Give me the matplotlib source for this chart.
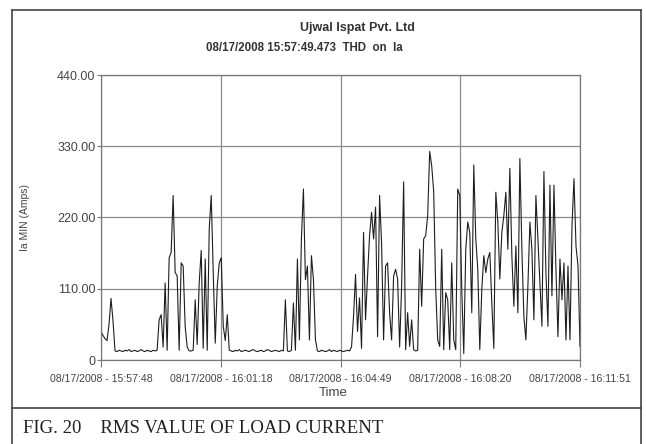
#=========================================IMPORTS========================================
import numpy as np
import matplotlib
matplotlib.use('Agg')
import matplotlib.pyplot as plt
from matplotlib.lines import Line2D

#===========================================DATA=======================================
# Ia MIN (Amps), one sample every ~3.5 s
burst_start = [44, 38, 33, 30, 55, 95, 60, 14]
idle_1 = [13, 15, 14, 13, 15, 14, 16, 13, 14, 15, 13, 14, 16, 14, 13, 15, 14, 13, 15, 14, 15]
burst_1 = [62, 70, 20, 119, 15, 158, 166, 254, 135, 130, 15, 150, 145, 52, 20, 14, 14, 15,
           93, 24, 119, 169, 18, 156, 15, 202, 254, 135, 26, 114, 150, 158, 52, 30, 70, 15]
idle_2 = [14, 13, 15, 14, 16, 13, 14, 15, 14, 13, 15, 16, 14, 13, 14, 15, 13, 14, 16, 15,
          13, 14, 15, 14, 13, 15, 14]
burst_2 = [93, 14, 13, 15, 88, 15, 156, 31, 187, 264, 124, 145, 31, 161, 124, 31, 14]
idle_3 = [13, 15, 14, 13, 14, 16, 13, 15, 14, 13, 15, 14, 13, 14, 15, 14]
burst_3 = [20, 67, 132, 44, 96, 18, 197, 62, 130, 192, 228, 187, 236, 36]
busy_1 = [254, 180, 31, 145, 150, 73, 31, 130, 140, 125, 20, 114, 275, 16, 73, 21, 62, 16, 14, 15]
busy_2 = [171, 83, 187, 192, 223, 322, 300, 260, 110, 31, 21, 171, 16, 104, 93, 16, 150, 31,
          16, 264, 254, 109, 10, 171, 213, 197, 73, 301, 187, 140, 16, 109]
busy_3 = [161, 135, 156, 166, 88, 18, 259, 213, 125, 197, 223, 259, 171, 296, 161, 83, 176,
          73, 311, 171, 67, 31, 114, 213, 171, 62, 254, 187, 119, 52, 291, 135, 52, 270, 99,
          270, 140, 36, 156, 93, 150, 31, 145, 31, 207, 280, 176, 145, 21]

ia_min = np.array(burst_start + idle_1 + burst_1 + idle_2 + burst_2 + idle_3 + burst_3
                  + busy_1 + busy_2 + busy_3, dtype=float)

y_ticks = [0, 110, 220, 330, 440]
y_labels = ['0', '110.00', '220.00', '330.00', '440.00']
x_labels = ['08/17/2008 - 15:57:48', '08/17/2008 - 16:01:18', '08/17/2008 - 16:04:49',
            '08/17/2008 - 16:08:20', '08/17/2008 - 16:11:51']

#==================================PLOTTING==================================
plt.rcParams['font.family'] = ['Liberation Sans', 'DejaVu Sans']

fig = plt.figure(figsize=(6.46, 4.44), dpi=100)
ax = fig.add_axes([101/646, 84/444, 479/646, 285/444])

x = np.arange(len(ia_min))
ax.plot(x, ia_min, color='#1e1e1e', lw=0.8)

ax.set_xlim(0, len(ia_min) - 1)
ax.set_ylim(0, 440)
ax.set_yticks(y_ticks)
ax.set_yticklabels(y_labels)
ax.set_xticks(np.linspace(0, len(ia_min) - 1, 5))
ax.set_xticklabels(x_labels)
ax.grid(True, color='#8a8a8a', lw=0.9)
ax.set_axisbelow(True)
for s in ax.spines.values():
    s.set_color('#777777')
    s.set_linewidth(0.9)
ax.tick_params(axis='y', length=3, pad=1, labelsize=9, colors='#777777', labelcolor='#444444')
ax.tick_params(axis='x', length=5, pad=5, labelsize=7.6, colors='#777777', labelcolor='#444444')

# titles and labels
fig.text(357/646, 1 - 28/444, 'Ujwal Ispat Pvt. Ltd', ha='center', va='center',
         fontsize=9, fontweight='bold', color='#333333')
fig.text(304/646, 1 - 48/444, '08/17/2008 15:57:49.473  THD  on  Ia', ha='center', va='center',
         fontsize=8.3, fontweight='bold', color='#333333')
fig.text(25/646, 1 - 217/444, 'Ia MIN (Amps)', rotation=90, ha='center', va='center',
         fontsize=7.5, color='#444444')
fig.text(333/646, 1 - 393/444, 'Time', ha='center', va='center', fontsize=9.5, color='#444444')

# frame + caption
border = '#444444'
fig.add_artist(Line2D([12/646, 12/646], [0, 1 - 10/444], transform=fig.transFigure, color=border, lw=1.2))
fig.add_artist(Line2D([12/646, 641/646], [1 - 10/444, 1 - 10/444], transform=fig.transFigure, color=border, lw=1.2))
fig.add_artist(Line2D([641/646, 641/646], [0, 1 - 10/444], transform=fig.transFigure, color=border, lw=1.2))
fig.add_artist(Line2D([12/646, 641/646], [1 - 408/444, 1 - 408/444], transform=fig.transFigure, color=border, lw=1.2))
fig.text(23/646, 1 - 433/444, 'FIG. 20    RMS VALUE OF LOAD CURRENT', ha='left', va='baseline',
         fontsize=13.5, family='Liberation Serif', color='#222222')

fig.savefig('out.png', dpi=100)
